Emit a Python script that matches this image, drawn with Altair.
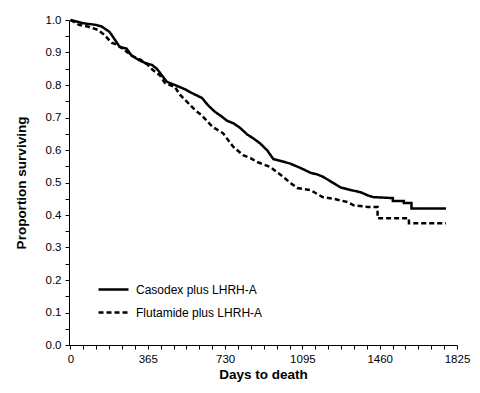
import altair as alt
import pandas as pd

# Kaplan-Meier style survival readings (days, proportion surviving)
casodex_days = [0, 60, 120, 147, 170, 185, 209, 232, 265, 289, 320, 351, 384, 408, 431, 455,
                493, 540, 574, 621, 649, 683, 710, 739, 770, 801, 834, 865, 896, 930, 958,
                1000, 1038, 1085, 1133, 1165, 1194, 1242, 1275, 1322, 1370, 1405, 1430,
                1522, 1522, 1574, 1574, 1610, 1610, 1773]
casodex_surv = [1.0, 0.99, 0.985, 0.98, 0.97, 0.963, 0.94, 0.917, 0.912, 0.89, 0.878, 0.868,
                0.862, 0.85, 0.83, 0.81, 0.80, 0.787, 0.775, 0.76, 0.738, 0.717, 0.705, 0.69,
                0.682, 0.668, 0.648, 0.635, 0.62, 0.598, 0.572, 0.565, 0.558, 0.545, 0.53,
                0.525, 0.517, 0.498, 0.485, 0.477, 0.47, 0.46, 0.455, 0.452, 0.443, 0.443,
                0.437, 0.437, 0.42, 0.42]

flutamide_days = [0, 40, 81, 128, 161, 194, 223, 256, 289, 330, 365, 389, 422, 446, 493, 517,
                  555, 588, 621, 649, 673, 720, 768, 815, 850, 882, 943, 1005, 1040, 1071,
                  1133, 1190, 1242, 1308, 1337, 1403, 1450, 1450, 1598, 1598, 1773]
flutamide_surv = [1.0, 0.985, 0.98, 0.97, 0.954, 0.93, 0.923, 0.907, 0.89, 0.878, 0.862, 0.846,
                  0.83, 0.806, 0.794, 0.77, 0.745, 0.723, 0.706, 0.686, 0.67, 0.652, 0.61,
                  0.584, 0.575, 0.563, 0.548, 0.517, 0.498, 0.483, 0.477, 0.455, 0.45, 0.44,
                  0.43, 0.425, 0.425, 0.39, 0.39, 0.375, 0.375]

series_names = ["Casodex plus LHRH-A", "Flutamide plus LHRH-A"]

x_tick_values = [i * 365 / 6 for i in range(31)]
y_tick_values = [round(i * 0.05, 2) for i in range(21)]

rows = []
for i, (d, s) in enumerate(zip(casodex_days, casodex_surv)):
    rows.append({"days": d, "surv": s, "group": series_names[0], "order": i})
for i, (d, s) in enumerate(zip(flutamide_days, flutamide_surv)):
    rows.append({"days": d, "surv": s, "group": series_names[1], "order": i})
df = pd.DataFrame(rows)

FONT = "Liberation Sans"

chart = alt.Chart(df).mark_line(color="black", strokeWidth=2.5).encode(
    x=alt.X("days:Q",
            scale=alt.Scale(domain=[-7, 1825], nice=False, zero=False),
            axis=alt.Axis(title="Days to death", values=x_tick_values,
                          labelExpr="abs(datum.value/365 - round(datum.value/365)) < 0.001 ? format(datum.value, 'd') : ''",
                          labelOverlap=False, labelFlush=False)),
    y=alt.Y("surv:Q",
            scale=alt.Scale(domain=[0, 1], nice=False),
            axis=alt.Axis(title="Proportion surviving", values=y_tick_values,
                          labelExpr="abs(datum.value*10 - round(datum.value*10)) < 0.001 ? format(datum.value, '.1f') : ''",
                          labelOverlap=False, labelFlush=False)),
    strokeDash=alt.StrokeDash("group:N",
                              scale=alt.Scale(domain=series_names, range=[[1, 0], [5, 3]]),
                              legend=alt.Legend(title=None, orient="none", legendX=28, legendY=253,
                                                symbolType="stroke", symbolSize=900,
                                                symbolStrokeWidth=2.5, symbolStrokeColor="black",
                                                labelFontSize=12, labelFont=FONT, labelColor="black",
                                                rowPadding=-13, labelOffset=6)),
    order="order:Q",
).properties(
    width=388, height=325,
    autosize=alt.AutoSizeParams(type="none"),
    padding={"left": 61, "top": 12, "right": 14, "bottom": 38},
).configure_view(stroke=None).configure_axis(
    grid=False, domainColor="black", tickColor="black", tickSize=4,
    labelFont=FONT, labelFontSize=11.5, labelColor="black",
    titleFont=FONT, titleFontSize=13.5, titleFontWeight="bold", titleColor="black",
    labelPadding=4,
).configure_axisX(titlePadding=3).configure_axisY(titlePadding=17)

chart.save("out.html", embed_options={"renderer": "svg", "actions": False})
